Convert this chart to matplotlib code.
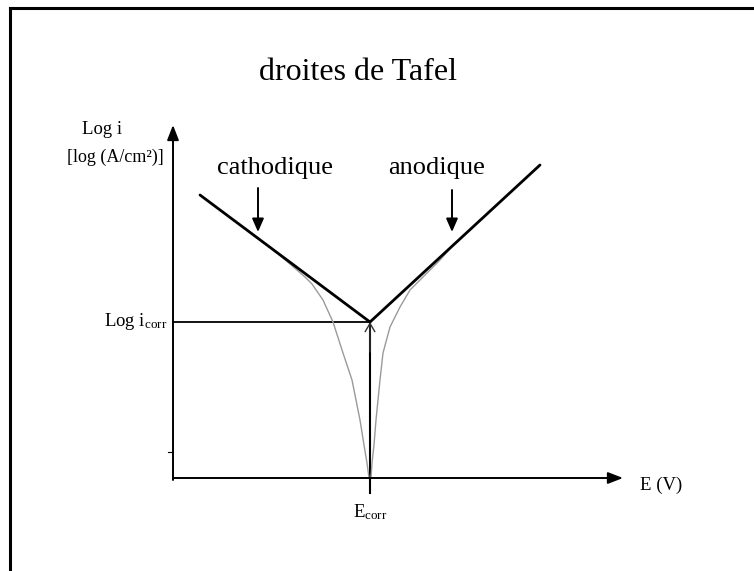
import matplotlib
matplotlib.use("Agg")
import matplotlib.pyplot as plt
from matplotlib.lines import Line2D

plt.rcParams['font.family'] = ['Liberation Serif', 'DejaVu Serif']
plt.rcParams['mathtext.fontset'] = 'custom'
plt.rcParams['mathtext.rm'] = 'Liberation Serif'
plt.rcParams['mathtext.it'] = 'Liberation Serif:italic'

# Tafel lines (E relative to Ecorr, log i relative to log icorr)
cath_E = [-1.70, 0.0]
cath_logi = [1.27, 0.0]
anod_E = [0.0, 1.70]
anod_logi = [0.0, 1.57]

# measured polarisation branches (thin curves)
left_E = [-1.00, -0.80, -0.65, -0.58, -0.47, -0.37, -0.27, -0.18, -0.14, -0.10, -0.06, -0.03, -0.01]
left_logi = [0.75, 0.58, 0.45, 0.38, 0.22, 0.00, -0.31, -0.58, -0.78, -0.98, -1.23, -1.41, -1.56]
right_E = [0.85, 0.70, 0.55, 0.40, 0.30, 0.20, 0.13, 0.10, 0.08, 0.06, 0.04, 0.02, 0.01]
right_logi = [0.79, 0.62, 0.47, 0.32, 0.15, -0.05, -0.31, -0.58, -0.78, -0.98, -1.23, -1.41, -1.56]

# axes extents
E_min, E_max = -1.97, 2.53
logi_min, logi_max = -1.56, 1.97
E_corr = 0.0
logi_corr = 0.0

fig = plt.figure(figsize=(7.54, 5.71), dpi=100)
ax = fig.add_axes([0, 0, 1, 1])
ax.set_xlim(-3.70, 3.84)
ax.set_ylim(-2.49, 3.22)
ax.axis('off')

# frame around the drawing
fig.add_artist(Line2D([9.5 / 754, 1.0], [1 - 7.5 / 571, 1 - 7.5 / 571], transform=fig.transFigure, color='black', lw=2.2))
fig.add_artist(Line2D([9.5 / 754, 9.5 / 754], [0, 1 - 7.5 / 571], transform=fig.transFigure, color='black', lw=2.2))

# coordinate axes with arrow heads
ax.annotate('', xy=(E_min, logi_max), xytext=(E_min, logi_min - 0.02),
            arrowprops=dict(arrowstyle='-|>,head_length=0.9,head_width=0.35', color='black', lw=1.4, shrinkA=0, shrinkB=0))
ax.annotate('', xy=(E_max, logi_min), xytext=(E_min, logi_min),
            arrowprops=dict(arrowstyle='-|>,head_length=0.9,head_width=0.35', color='black', lw=1.4, shrinkA=0, shrinkB=0))
ax.plot([E_min - 0.05, E_min], [-1.30, -1.30], color='black', lw=0.8)

# icorr / Ecorr construction lines
ax.plot([E_min, E_corr], [logi_corr, logi_corr], color='black', lw=1.3)
ax.plot([E_corr, E_corr], [logi_corr, -1.71], color='black', lw=1.5)
ax.annotate('', xy=(E_corr, logi_corr), xytext=(E_corr, logi_corr - 0.3),
            arrowprops=dict(arrowstyle='->,head_length=0.6,head_width=0.35', color='#333333', lw=1.0, shrinkA=0, shrinkB=0))

# curves and Tafel lines
ax.plot(left_E, left_logi, color='#9a9a9a', lw=1.0)
ax.plot(right_E, right_logi, color='#9a9a9a', lw=1.0)
ax.plot(cath_E, cath_logi, color='black', lw=2.0, solid_capstyle='round')
ax.plot(anod_E, anod_logi, color='black', lw=2.0, solid_capstyle='round')

# labels
ax.text(-0.12, 2.49, 'droites de Tafel', fontsize=23, ha='center', va='center')
ax.text(-0.95, 1.54, 'cathodique', fontsize=19, ha='center', va='center')
ax.text(0.67, 1.54, 'anodique', fontsize=19, ha='center', va='center')
ax.annotate('', xy=(-1.12, 0.90), xytext=(-1.12, 1.34),
            arrowprops=dict(arrowstyle='-|>,head_length=0.8,head_width=0.35', color='black', lw=1.4, shrinkA=0, shrinkB=0))
ax.annotate('', xy=(0.82, 0.90), xytext=(0.82, 1.32),
            arrowprops=dict(arrowstyle='-|>,head_length=0.8,head_width=0.35', color='black', lw=1.4, shrinkA=0, shrinkB=0))

ax.text(-2.68, 1.92, 'Log i', fontsize=13.5, ha='center', va='center')
ax.text(-2.55, 1.65, '[log (A/cm²)]', fontsize=13, ha='center', va='center')
ax.text(-2.03, logi_corr, r'Log i$_{\mathrm{corr}}$', fontsize=13.5, ha='right', va='center')
ax.text(2.70, -1.63, 'E (V)', fontsize=13.5, ha='left', va='center')
ax.text(E_corr, -1.90, r'E$_{\mathrm{corr}}$', fontsize=13.5, ha='center', va='center')

fig.savefig('out.png', dpi=100)
